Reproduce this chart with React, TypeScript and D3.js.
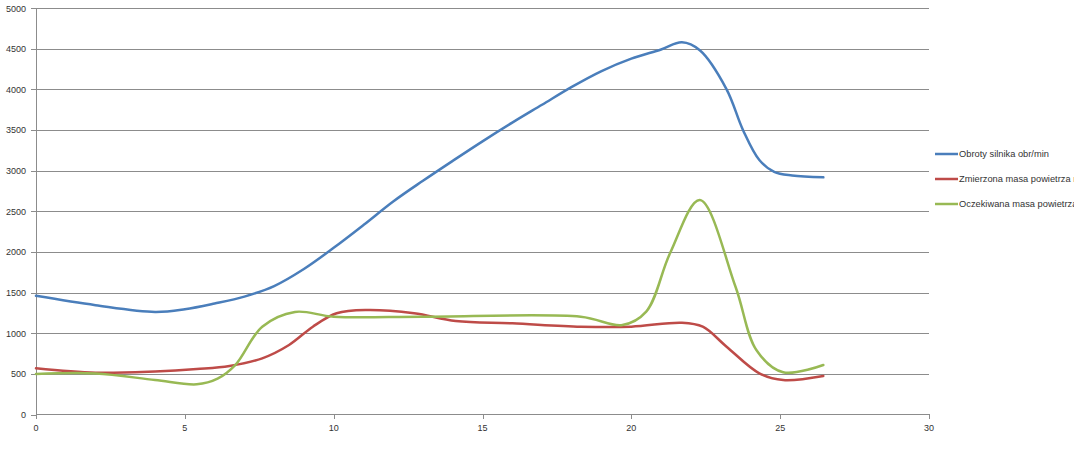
import React from "react";
import * as d3 from "d3";

const blueX = [0, 2, 4, 5, 6, 7, 8, 9, 10, 11, 12, 13, 14, 15, 16, 17, 18, 19, 20, 21, 21.7, 22.3, 23.2, 23.75, 24.3, 24.8, 25.4, 26.45];
const blueY = [1460, 1345, 1262, 1295, 1365, 1450, 1580, 1790, 2050, 2330, 2620, 2875, 3120, 3360, 3590, 3810, 4030, 4225, 4378, 4490, 4578, 4480, 4000, 3500, 3130, 2985, 2940, 2917];

const redX = [0, 2, 4, 5.4, 6.5, 7.6, 8.5, 9.3, 10.1, 11.1, 12.7, 14.1, 16, 18.3, 20, 21.7, 22.4, 23.2, 24.3, 25.1, 26.45];
const redY = [568, 514, 530, 560, 597, 691, 855, 1080, 1245, 1285, 1245, 1150, 1121, 1080, 1080, 1129, 1080, 834, 507, 424, 474];

const greenX = [0, 2, 4, 5.4, 6.1, 6.7, 7.6, 8.7, 10, 13, 18.3, 19.7, 20.5, 21.3, 22.3, 23.5, 24.2, 25.1, 26.45];
const greenY = [498, 505, 424, 371, 440, 610, 1080, 1262, 1203, 1203, 1203, 1101, 1265, 1983, 2638, 1572, 793, 519, 609];

const seriesNames = ["Obroty silnika obr/min", "Zmierzona masa powietrza mg/cykl", "Oczekiwana masa powietrza mg/cykl"];
const seriesColors = ["#4A7EBB", "#BE4B48", "#98B954"];

const xTicks = [0, 5, 10, 15, 20, 25, 30];
const yTicks = [0, 500, 1000, 1500, 2000, 2500, 3000, 3500, 4000, 4500, 5000];

export default function App() {
  const W = 1074, H = 460;
  const x = d3.scaleLinear().domain([0, 30]).range([36, 929]);
  const y = d3.scaleLinear().domain([0, 5000]).range([414.5, 8]);
  const line = d3
    .line<[number, number]>()
    .x((d) => x(d[0]))
    .y((d) => y(d[1]))
    .curve(d3.curveCatmullRom.alpha(0.5));
  const series = [
    blueX.map((v, i) => [v, blueY[i]] as [number, number]),
    redX.map((v, i) => [v, redY[i]] as [number, number]),
    greenX.map((v, i) => [v, greenY[i]] as [number, number]),
  ];
  const font = "'Liberation Sans', Arial, sans-serif";
  const legendY = [154, 179, 204];
  return (
    <svg width={W} height={H} style={{ position: "absolute", left: 0, top: 0, background: "#fff" }}>
      <rect x={0} y={0} width={W} height={H} fill="#fff" />
      {yTicks.map((t) => (
        <g key={"y" + t}>
          {t > 0 && <line x1={x(0)} x2={x(30)} y1={Math.round(y(t)) + 0.5} y2={Math.round(y(t)) + 0.5} stroke="#8c8c8c" strokeWidth={1} />}
          <line x1={31} x2={36} y1={Math.round(y(t)) + 0.5} y2={Math.round(y(t)) + 0.5} stroke="#8c8c8c" />
          <text x={26} y={y(t) + 3.5} textAnchor="end" fontFamily={font} fontSize={9} fill="#333">{t}</text>
        </g>
      ))}
      {xTicks.map((t) => (
        <g key={"x" + t}>
          <line x1={Math.round(x(t)) + 0.5} x2={Math.round(x(t)) + 0.5} y1={414} y2={419} stroke="#8c8c8c" />
          <text x={x(t)} y={431} textAnchor="middle" fontFamily={font} fontSize={9} fill="#333">{t}</text>
        </g>
      ))}
      <line x1={36.5} x2={36.5} y1={8} y2={414.5} stroke="#8c8c8c" />
      <line x1={36} x2={929} y1={414.5} y2={414.5} stroke="#8c8c8c" />
      {series.map((s, i) => (
        <path key={"s" + i} d={line(s) || ""} fill="none" stroke={seriesColors[i]} strokeWidth={2.5} strokeLinejoin="round" strokeLinecap="round" />
      ))}
      {seriesNames.map((n, i) => (
        <g key={"l" + i}>
          <line x1={935} x2={958} y1={legendY[i]} y2={legendY[i]} stroke={seriesColors[i]} strokeWidth={2.5} />
          <text x={959} y={legendY[i] + 3} fontFamily={font} fontSize={9.3} fill="#333">{n}</text>
        </g>
      ))}
    </svg>
  );
}
